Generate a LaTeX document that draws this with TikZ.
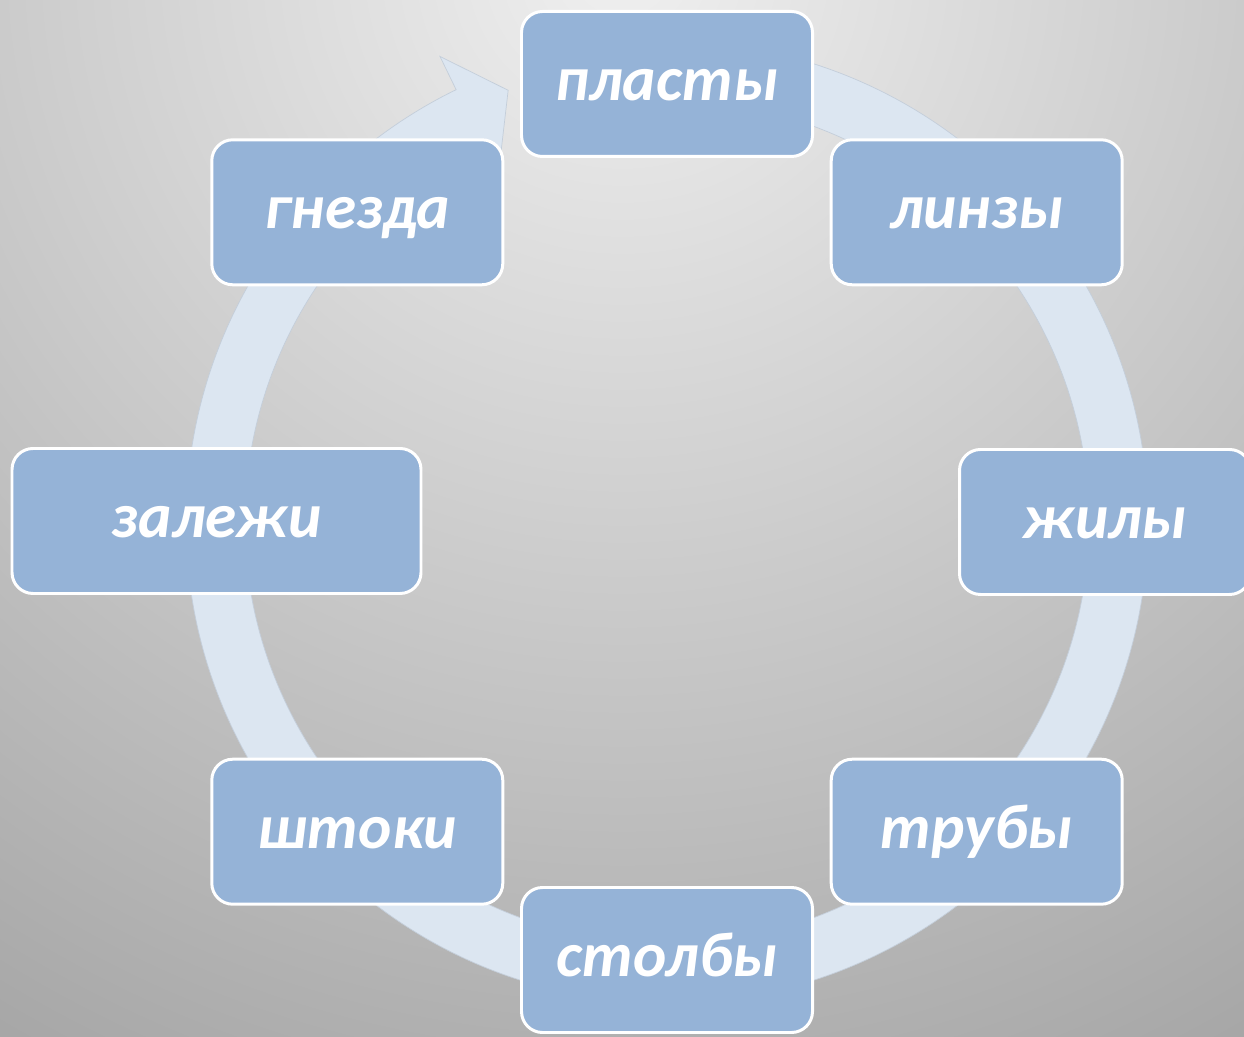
\documentclass[tikz,border=0pt]{standalone}
\usepackage{fontspec}
\setmainfont{Carlito}
\usetikzlibrary{positioning}

\definecolor{boxblue}{RGB}{149,179,215}
\definecolor{ringblue}{RGB}{220,230,241}
\definecolor{ringedge}{RGB}{196,206,218}

\begin{document}
\begin{tikzpicture}
            % Стили
            \tikzstyle{stage}=[draw=white, line width=1.7pt, fill=boxblue, rounded corners=0.42cm, minimum height=2.9cm, minimum width=5.82cm, text=white, font=\fontsize{36}{42}\selectfont\bfseries\itshape, text centered, text height=0.8cm, text depth=0.14cm]
            \tikzstyle{ring}=[fill=ringblue, draw=ringedge, line width=0.4pt]

            % Фон
            \useasboundingbox (0,0) rectangle (24.88,20.72);
            \begin{scope}
                  \clip (0,0) rectangle (24.88,20.72);
                  \shade[inner color=gray!12, outer color=gray!72] (12.44,21.5) circle (26cm);
            \end{scope}

            % Кольцо со стрелкой
            \coordinate (c) at (13.34,10.28);
            \begin{scope}[shift={(c)}]
                  \path[ring] (85:9.62) arc[start angle=85, end angle=-244, radius=9.62]
                        -- (-244:10.36) -- (-249.8:9.2) -- (-244:7.7) -- (-244:8.44)
                        arc[start angle=-244, end angle=85, radius=8.44] -- cycle;
            \end{scope}

            % Узлы
            \node[stage] (plasty) at ([shift={(90:8.76)}]c) {пласты};
            \node[stage] (linzy) at ([shift={(45:8.76)}]c) {линзы};
            \node[stage] (zhily) at ([shift={(0:8.76)}]c) {жилы};
            \node[stage] (truby) at ([shift={(-45:8.76)}]c) {трубы};
            \node[stage] (stolby) at ([shift={(-90:8.76)}]c) {столбы};
            \node[stage] (shtoki) at ([shift={(-135:8.76)}]c) {штоки};
            \node[stage, minimum width=8.18cm] (zalezhi) at (4.33,10.3) {залежи};
            \node[stage] (gnezda) at ([shift={(135:8.76)}]c) {гнезда};
      \end{tikzpicture}
\end{document}
